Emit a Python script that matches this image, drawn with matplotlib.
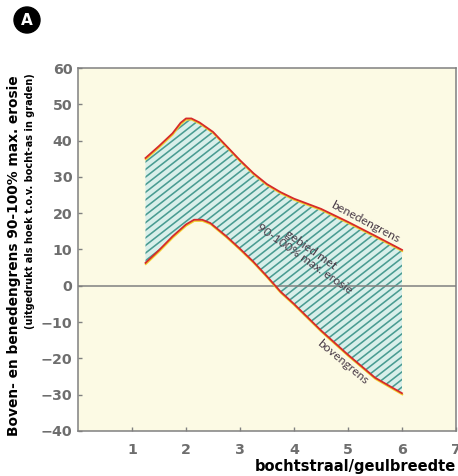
import numpy as np
import matplotlib
matplotlib.use("Agg")
import matplotlib.pyplot as plt
from matplotlib.collections import LineCollection
from matplotlib.patches import Circle
import matplotlib.transforms as mtrans

# ---- data ----
upper_x = [1.25, 1.5, 1.75, 1.9, 2.0, 2.1, 2.25, 2.5, 2.75, 3.0, 3.25, 3.5, 3.75, 4.0, 4.5, 5.0, 5.5, 6.0]
upper_y = [35.2, 38.5, 42.0, 44.9, 46.1, 46.1, 45.0, 42.4, 38.5, 34.6, 31.0, 28.0, 25.8, 24.0, 21.2, 17.6, 13.8, 9.9]

lower_x = [1.25, 1.5, 1.75, 2.0, 2.15, 2.3, 2.45, 2.75, 3.0, 3.25, 3.5, 3.75, 4.0, 4.5, 5.0, 5.5, 6.0]
lower_y = [6.3, 9.8, 13.6, 16.9, 18.2, 18.2, 17.3, 13.6, 10.2, 6.6, 2.6, -1.6, -5.0, -12.3, -19.0, -25.3, -29.6]

xticks = [1, 2, 3, 4, 5, 6, 7]
yticks = [-40, -30, -20, -10, 0, 10, 20, 30, 40, 50, 60]

ylabel1 = "Boven- en benedengrens 90-100% max. erosie"
ylabel2 = "(uitgedrukt als hoek t.o.v. bocht-as in graden)"
xlabel = "bochtstraal/geulbreedte"
label_upper = "benedengrens"
label_lower = "bovengrens"
label_area = "gebied met\n90-100% max. erosie"

# ---- styling ----
BG = "#FCFAE4"
FILL = "#D9EFEA"
HATCH = "#4A9C92"
RED = "#D62A2A"
YELLOW = "#F0CF2E"
GREY = "#808080"
TICKC = "#6e6e6e"
TXT = "#4a3c48"

W, H = 458, 476
fig = plt.figure(figsize=(W / 100, H / 100), dpi=100)
fig.patch.set_facecolor("white")
ax = fig.add_axes([78 / W, (H - 431) / H, 378 / W, 363 / H])
ax.set_facecolor(BG)
ax.set_xlim(0, 7)
ax.set_ylim(-40, 60)

poly_x = list(upper_x) + list(lower_x[::-1])
poly_y = list(upper_y) + list(lower_y[::-1])
poly = ax.fill(poly_x, poly_y, facecolor=FILL, edgecolor="none", zorder=1)[0]

# manual hatch: slanted lines clipped to the polygon
ang = np.deg2rad(38)
k = np.tan(ang) * 378 / 363
dv = 7.6 / 363
segs = [[(0, c), (1, c + k)] for c in np.arange(-2.0, 1.2, dv)]
lc = LineCollection(segs, colors=HATCH, linewidths=1.15, transform=ax.transAxes, zorder=2)
ax.add_collection(lc)
lc.set_clip_path(poly)

ax.axhline(0, color=GREY, lw=1.1, zorder=3)

off = mtrans.ScaledTranslation(0.2 / 72, -0.9 / 72, fig.dpi_scale_trans)
for xs, ys in [(upper_x, upper_y), (lower_x, lower_y)]:
    ax.plot(xs, ys, color=YELLOW, lw=1.3, zorder=4, solid_joinstyle="round",
            transform=ax.transData + off)
    ax.plot(xs, ys, color=RED, lw=1.3, zorder=5, solid_joinstyle="round")

# curve labels
ax.text(5.33, 17.6, label_upper, rotation=-28, rotation_mode="anchor", ha="center", va="center",
        fontsize=8.8, color=TXT, family="Lato", zorder=6)
ax.text(4.9, -21.0, label_lower, rotation=-40, rotation_mode="anchor", ha="center", va="center",
        fontsize=8.8, color=TXT, family="Lato", zorder=6)
ax.text(4.25, 8.7, label_area, rotation=-35, rotation_mode="anchor", ha="center", va="center",
        multialignment="center", linespacing=0.9,
        fontsize=8.8, color=TXT, family="Lato", zorder=6)

for s in ax.spines.values():
    s.set_color(GREY)
    s.set_linewidth(1.1)
ax.set_xticks(xticks)
ax.set_yticks(yticks)
ax.tick_params(direction="in", length=3, width=1, color=GREY, labelcolor=TICKC)
ax.tick_params(axis="x", pad=9)
ax.tick_params(axis="y", pad=4)
for lab in ax.get_xticklabels() + ax.get_yticklabels():
    lab.set_fontsize(10.3)
    lab.set_fontweight("bold")

fig.text(456 / W, 1 - 466 / H, xlabel, ha="right", va="center", fontsize=10.5,
         fontweight="bold", color="black")
fig.text(14 / W, 1 - 75 / H, ylabel1, rotation=90, rotation_mode="anchor", ha="right", va="center",
         fontsize=9.9, fontweight="bold", color="black")
fig.text(30 / W, 1 - 73 / H, ylabel2, rotation=90, rotation_mode="anchor", ha="right", va="center",
         fontsize=7.0, fontweight="bold", color="black")

bax = fig.add_axes([0, 0, 1, 1], zorder=-1)
bax.set_xlim(0, W)
bax.set_ylim(H, 0)
bax.axis("off")
bax.add_patch(Circle((27, 20), 13, color="black"))
bax.text(27, 20.5, "A", ha="center", va="center", color="white", fontsize=11, fontweight="bold")

fig.savefig("out.png", dpi=100)
